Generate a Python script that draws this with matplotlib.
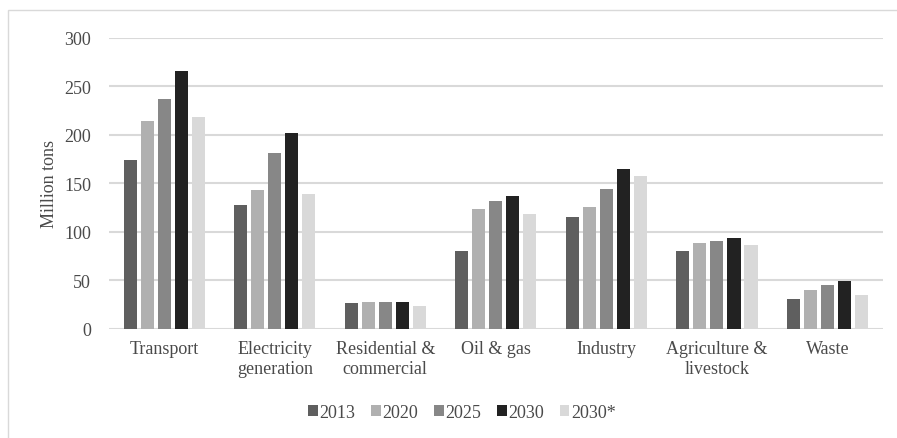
import numpy as np
import matplotlib.pyplot as plt
from matplotlib.patches import Rectangle

plt.rcParams['font.family'] = ['Liberation Serif', 'DejaVu Serif']

# data
categories = ['Transport', 'Electricity\ngeneration', 'Residential &\ncommercial',
              'Oil & gas', 'Industry', 'Agriculture &\nlivestock', 'Waste']
years = ['2013', '2020', '2025', '2030', '2030*']
v2013 = [174, 127, 26, 80, 115, 80, 31]
v2020 = [214, 143, 27, 123, 125, 88, 40]
v2025 = [237, 181, 27, 132, 144, 90, 45]
v2030 = [266, 202, 28, 137, 165, 93, 49]
v2030s = [218, 139, 23, 118, 157, 86, 35]
series = [v2013, v2020, v2025, v2030, v2030s]
colors = ['#5f5f5f', '#b0b0b0', '#878787', '#222222', '#d9d9d9']

fs = 13
txt = '#4a4a4a'

fig = plt.figure(figsize=(8.97, 4.39), dpi=100)
ax = fig.add_axes([0.1215, 0.249, 0.8625, 0.663])

x = np.arange(len(categories))
pitch = 0.154
width = 0.12
for i, (vals, c, lab) in enumerate(zip(series, colors, years)):
    ax.bar(x + (i - 2) * pitch, vals, width, color=c, label=lab, zorder=3)

ax.set_xlim(-0.5, len(categories) - 0.5)
ax.set_ylim(0, 300)
ax.set_yticks(range(0, 301, 50))
ax.grid(axis='y', color='#d9d9d9', linewidth=1.5, zorder=0)
for s in ax.spines.values():
    s.set_visible(False)
ax.tick_params(length=0, labelsize=fs, colors=txt)
ax.tick_params(axis='y', pad=13)
ax.tick_params(axis='x', pad=8)
ax.set_xticks(x)
ax.set_xticklabels(categories, linespacing=1.25)
ax.set_ylabel('Million tons', fontsize=fs, color=txt)
ax.yaxis.set_label_coords(-0.066, 0.5)

leg = fig.legend(loc='center', bbox_to_anchor=(0.515, 0.059), ncol=5, frameon=False,
                 fontsize=fs, handlelength=0.55, handleheight=0.55, handletextpad=0.1,
                 columnspacing=0.85)
for t in leg.get_texts():
    t.set_color(txt)

# outer chart border
fig.patches.append(Rectangle((8 / 897, -0.05), 1.2, 1 - 11 / 439 + 0.05,
                             transform=fig.transFigure, fill=False,
                             edgecolor='#d9d9d9', linewidth=1))

fig.savefig('out.png', dpi=100)
